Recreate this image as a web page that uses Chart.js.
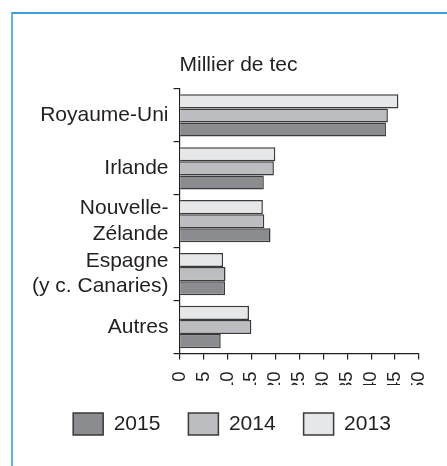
<!DOCTYPE html>
<html>
<head>
<meta charset="utf-8">
<script src="https://cdn.jsdelivr.net/npm/chart.js@4/dist/chart.umd.min.js"></script>
<style>
  body { margin: 0; background: #fff; }
  #frame {
    position: absolute; left: 11px; top: 12px; width: 436px; height: 454px;
    border-top: 2px solid #3d9ee0; border-left: 2px solid #66b3e8;
  }
  #wrap { position: absolute; left: 0; top: 0; width: 434px; height: 452px; }
</style>
</head>
<body>
<div id="frame"><div id="wrap"><canvas id="myChart"></canvas></div></div>
<script>
// data (thousand tonnes coal equivalent)
const categories = ['Royaume-Uni', 'Irlande', ['Nouvelle-', 'Zélande'], ['Espagne', '(y c. Canaries)'], 'Autres'];
const years = ['2013', '2014', '2015'];
const values2013 = [45.7, 20.0, 17.4, 9.1, 14.5];
const values2014 = [43.5, 19.7, 17.7, 9.6, 15.0];
const values2015 = [43.1, 17.6, 19.0, 9.5, 8.6];
const xTicks = [0, 5, 10, 15, 20, 25, 30, 35, 40, 45, 50];
const unitLabel = 'Millier de tec';

const colors = ['#e6e7e8', '#bcbdc0', '#8b8c8f'];
const textColor = '#231f20';
const fontFam = '"Liberation Sans", Arial, sans-serif';

Chart.defaults.font.family = fontFam;
Chart.defaults.font.size = 21;
Chart.defaults.color = textColor;

const ctx = document.getElementById('myChart');

// unit label sits above the plot, left aligned with the value axis
const unitTitle = {
  id: 'unitTitle',
  afterLayout(chart) {
    // legend in the original sits a bit right of centre
    if (chart.legend) { chart.legend.left += 9; chart.legend.right += 9; }
  },
  afterDraw(chart) {
    const c = chart.ctx;
    c.save();
    c.font = '21px ' + fontFam;
    c.fillStyle = textColor;
    c.textAlign = 'left';
    c.textBaseline = 'alphabetic';
    c.fillText(unitLabel, chart.chartArea.left, chart.chartArea.top - 18);
    c.restore();
  }
};

const series = [values2013, values2014, values2015];
const chartdata = {
  labels: categories,
  datasets: years.map((y, i) => ({
    label: y,
    data: series[i],
    backgroundColor: colors[i],
    borderColor: '#3a3a3a',
    borderWidth: 1.5,
    categoryPercentage: 0.8,
    barPercentage: 1.0
  }))
};

chart = new Chart(ctx, {
  type: 'bar',
  data: chartdata,
  plugins: [unitTitle],
  options: {
    indexAxis: 'y',
    responsive: true,
    maintainAspectRatio: false,
    animation: false,
    layout: { padding: { top: 75, right: 28, bottom: 21, left: 14 } },
    plugins: {
      tooltip: { enabled: false },
      legend: {
        position: 'bottom',
        labels: {
          boxWidth: 30,
          boxHeight: 22,
          padding: 28,
          color: textColor,
          font: { size: 21 },
          sort: (a, b) => b.datasetIndex - a.datasetIndex
        }
      }
    },
    scales: {
      x: {
        min: 0,
        max: 50,
        afterBuildTicks: axis => { axis.ticks = xTicks.map(v => ({ value: v })); },
        // let the rotated labels use some of the legend's empty top space
        afterFit: axis => { axis.height -= 19; axis.paddingRight = 0; },
        ticks: { autoSkip: false, minRotation: 90, maxRotation: 90, padding: 12, color: textColor, font: { size: 18.5 } },
        grid: { drawOnChartArea: false, tickLength: 6, color: '#231f20', lineWidth: 1.2 },
        border: { color: '#231f20', width: 1.2 }
      },
      y: {
        ticks: { autoSkip: false, padding: 5, color: textColor },
        grid: { drawOnChartArea: false, tickLength: 6, color: '#231f20', lineWidth: 1.2 },
        border: { color: '#231f20', width: 1.2 }
      }
    }
  }
});
</script>
</body>
</html>
